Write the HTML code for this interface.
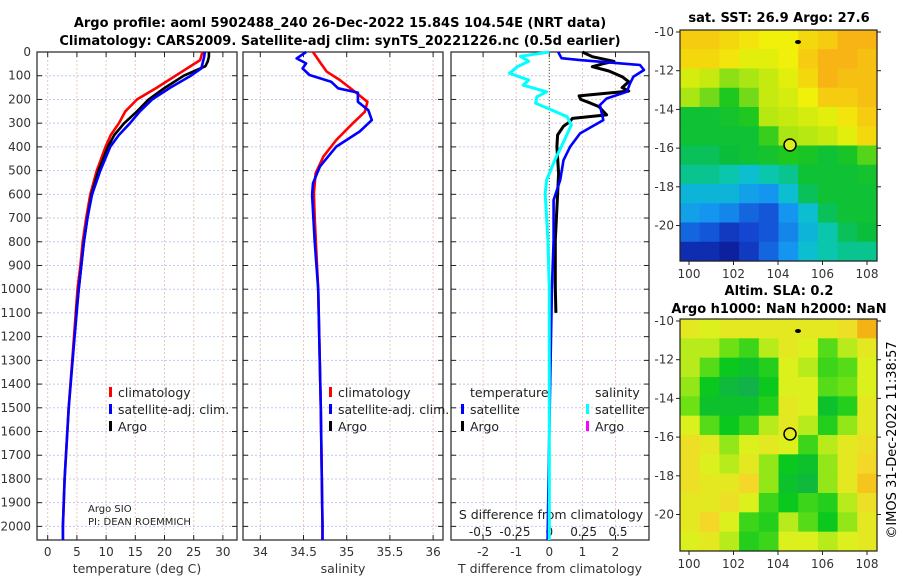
<!DOCTYPE html>
<html><head><meta charset="utf-8"><style>
html,body{margin:0;padding:0;background:#fff}
svg{display:block;font-family:"DejaVu Sans","Liberation Sans",sans-serif}
</style></head><body>
<svg id="chart" width="900" height="580" viewBox="0 0 900 580" xmlns="http://www.w3.org/2000/svg">
<text x="340" y="27" text-anchor="middle" font-size="13" font-weight="bold">Argo profile: aoml 5902488_240 26-Dec-2022 15.84S 104.54E (NRT data)</text>
<text x="340" y="45" text-anchor="middle" font-size="13" font-weight="bold">Climatology: CARS2009. Satellite-adj clim: synTS_20221226.nc (0.5d earlier)</text>
<text x="779" y="22" text-anchor="middle" font-size="13" font-weight="bold">sat. SST: 26.9 Argo: 27.6</text>
<text x="779" y="295" text-anchor="middle" font-size="13" font-weight="bold">Altim. SLA: 0.2</text>
<text x="779" y="313" text-anchor="middle" font-size="13" font-weight="bold">Argo h1000: NaN h2000: NaN</text>
<text transform="translate(896,440) rotate(-90)" text-anchor="middle" font-size="13">©IMOS 31-Dec-2022 11:38:57</text>
<g id="plots"></g>
</svg>
<script>
// ---- data ----
const depthTicks=[0,100,200,300,400,500,600,700,800,900,1000,1100,1200,1300,1400,1500,1600,1700,1800,1900,2000];
const tempTicks=[0,5,10,15,20,25,30];
const salTicks=[34,34.5,35,35.5,36];
const salTickLabels=["34","34.5","35","35.5","36"];
const tdiffTicks=[-2,-1,0,1,2];
const sdiffTicks=[-0.5,-0.25,0,0.25,0.5];
const sdiffTickLabels=["-0.5","-0.25","0","0.25","0.5"];

const climTDepth=[0,34,100,150,200,250,300,350,400,500,600,700,800,900,1000,1200,1500,1800,2000,2060];
const climT=[26.5,26.1,21.9,18.7,15.3,13.3,12.2,10.8,9.9,8.4,7.3,6.6,6.0,5.6,5.1,4.5,3.6,2.9,2.6,2.6];
const satTDepth=[0,20,69,100,150,200,250,300,350,400,500,600,700,800,1000,1200,1500,1800,2000,2060];
const satT=[26.9,26.8,26.3,24.5,21.0,17.9,15.8,14.1,12.2,10.7,9.0,7.6,6.8,6.2,5.3,4.6,3.6,2.9,2.6,2.6];
const argoTDepth=[0,20,40,60,100,150,200,250,300,350,400,500,600,700,800,1000,1100];
const argoT=[27.6,27.6,27.4,27.0,23.3,20.1,17.3,15.3,13.1,11.4,10.3,8.7,7.5,6.8,6.2,5.3,4.9];

const climSDepth=[0,48,83,118,160,210,252,301,371,441,512,596,700,1000,1500,2000,2060];
const climS=[34.61,34.70,34.77,34.92,35.07,35.24,35.21,35.07,34.88,34.73,34.64,34.62,34.63,34.67,34.70,34.72,34.72];
const satSDepth=[0,27,48,69,97,125,153,171,210,245,287,335,399,483,553,602,800,1000,1500,2000,2060];
const satS=[34.53,34.42,34.53,34.49,34.57,34.82,34.90,35.13,35.13,35.25,35.29,35.15,34.88,34.69,34.61,34.60,34.63,34.67,34.70,34.72,34.72];

const satTdDepth=[0,26,34,55,76,104,132,168,196,224,287,343,399,456,540,624,793,1000,1300,1600,2060];
const satTd=[0.27,0.37,0.93,2.74,2.86,2.54,2.44,2.34,1.73,1.53,1.63,0.93,0.63,0.43,0.33,0.13,0.13,0.08,0.04,0.0,-0.05];
const argoTdDepth=[0,20,39,50,62,80,104,125,150,165,185,200,216,230,265,280,296,313,350,399,512,600,793,990,1100];
const argoTd=[1.0,1.3,1.95,1.6,1.3,1.8,2.2,2.4,2.2,2.4,0.9,0.95,1.25,1.5,1.73,0.7,0.6,0.43,0.25,0.23,0.28,0.25,0.18,0.18,0.2];
const satSdDepth=[0,18,39,61,90,118,140,168,189,216,245,273,308,371,456,540,596,793,1000,2060];
const satSd=[0,-0.21,-0.15,-0.23,-0.29,-0.15,-0.19,-0.02,-0.09,-0.10,0.02,0.13,0.16,0.11,0.04,-0.02,-0.03,-0.01,0,0];

const lonTicks=[100,102,104,106,108];
const latTicks=[-10,-12,-14,-16,-18,-20];
const sstGrid=[
[27.6,27.6,27.5,27.4,27.3,27.3,27.5,27.6,27.8,27.8],
[27.5,27.5,27.4,27.2,27.2,27.3,27.6,27.8,27.8,27.7],
[27.1,27.0,26.7,26.8,27.0,27.2,27.5,27.8,27.7,27.7],
[26.8,26.6,26.3,26.6,27.0,27.1,27.3,27.6,27.6,27.7],
[26.0,26.0,26.1,26.3,26.9,27.0,27.1,27.2,27.4,27.6],
[26.0,26.0,26.0,26.0,26.4,26.8,26.9,27.0,27.2,27.5],
[25.8,25.8,25.9,26.0,26.1,26.3,26.2,26.0,26.2,26.5],
[25.6,25.6,25.5,25.3,25.5,25.6,26.0,26.0,26.0,26.1],
[25.2,25.2,25.2,25.0,24.9,25.3,25.8,26.0,26.0,26.0],
[25.0,24.9,24.8,24.6,24.5,24.9,25.3,25.8,26.0,26.0],
[24.6,24.5,24.3,24.4,24.5,24.8,25.2,25.5,25.8,25.9],
[24.2,24.2,24.1,24.3,24.6,24.9,25.3,25.5,25.6,25.6]];
const slaGrid=[
[.6,.55,.6,.6,.6,.6,.6,.6,.65,.8],
[.5,.5,.4,.3,.5,.6,.55,.35,.5,.6],
[.5,.35,.2,.15,.25,.55,.5,.3,.35,.55],
[.45,.2,.1,.05,.2,.55,.55,.35,.4,.55],
[.4,.15,.15,.15,.25,.6,.55,.15,.25,.6],
[.55,.35,.2,.3,.5,.6,.5,.25,.45,.6],
[.65,.6,.45,.55,.6,.55,.3,.5,.6,.65],
[.65,.55,.5,.6,.45,.2,.15,.45,.6,.7],
[.65,.6,.6,.7,.45,.15,.1,.45,.6,.75],
[.6,.6,.65,.55,.3,.2,.3,.25,.5,.65],
[.6,.7,.55,.3,.25,.5,.35,.2,.45,.6],
[.55,.6,.5,.25,.3,.55,.55,.5,.55,.6]];
const argoLon=104.54, argoLat=-15.84;

// ---- drawing ----
const NS="http://www.w3.org/2000/svg";
const root=document.getElementById('plots');
function mk(tag,attrs,parent){const e=document.createElementNS(NS,tag);for(const k in attrs)e.setAttribute(k,attrs[k]);(parent||root).appendChild(e);return e;}
const Y0=52, PXM=0.2372;
const yD=d=>Y0+d*PXM;
const panels=[
 {x0:37,x1:237,fx:v=>47.7+v*5.84},
 {x0:243,x1:443,fx:v=>260.3+(v-34)*86.4},
 {x0:451,x1:649,fx:v=>549.3+v*33.1}
];
const fS=v=>549.3+v*137.4;
const PB=540;
function gridAndFrame(p,xt,name){
  const g=mk('g',{});
  
  
  depthTicks.forEach(d=>{mk('line',{x1:p.x0,x2:p.x1,y1:yD(d),y2:yD(d),stroke:'#c4c8ee','stroke-dasharray':'2,2','stroke-width':1},g);
    mk('line',{x1:p.x0,x2:p.x0+5,y1:yD(d),y2:yD(d),stroke:'#222'},g);
    mk('line',{x1:p.x1-5,x2:p.x1,y1:yD(d),y2:yD(d),stroke:'#222'},g);});
  xt.forEach(v=>{const x=p.fx(v);mk('line',{x1:x,x2:x,y1:Y0,y2:PB,stroke:'#e8c8b8','stroke-dasharray':'2,2','stroke-width':1},g);
    mk('line',{x1:x,x2:x,y1:PB-5,y2:PB,stroke:'#222'},g);mk('line',{x1:x,x2:x,y1:Y0,y2:Y0+5,stroke:'#222'},g);});
  const f=mk('rect',{x:p.x0,y:Y0,width:p.x1-p.x0,height:PB-Y0,fill:'none',stroke:'#222','stroke-width':1.2});
  
  
}
function line(fx,ds,vs,color,name,w){
  const pts=ds.map((d,i)=>fx(vs[i]).toFixed(1)+','+Math.min(yD(d),PB).toFixed(1)).join(' ');
  const e=mk('polyline',{points:pts,fill:'none',stroke:color,'stroke-width':w||2.6,'stroke-linejoin':'round'});
  
  
}
function txt(x,y,s,attrs,name){const e=mk('text',Object.assign({x:x,y:y,'font-size':12.5},attrs||{}));e.textContent=s;
  
  return e;}

gridAndFrame(panels[0],tempTicks,'temperature-panel');
gridAndFrame(panels[1],salTicks,'salinity-panel');
gridAndFrame(panels[2],tdiffTicks,'difference-panel');
depthTicks.forEach(d=>txt(31,yD(d)+4,String(d),{'text-anchor':'end','font-size':12,fill:'#333'},'depth-tick-label'));
tempTicks.forEach(v=>txt(panels[0].fx(v),556,String(v),{'text-anchor':'middle','font-size':12,fill:'#333'},'temperature-tick-label'));
salTicks.forEach((v,i)=>txt(panels[1].fx(v),556,salTickLabels[i],{'text-anchor':'middle','font-size':12,fill:'#333'},'salinity-tick-label'));
tdiffTicks.forEach(v=>txt(panels[2].fx(v),556,String(v),{'text-anchor':'middle','font-size':12,fill:'#333'},'tdiff-tick-label'));
sdiffTicks.forEach((v,i)=>txt(fS(v),536,sdiffTickLabels[i],{'text-anchor':'middle','font-size':12,fill:'#222'},'sdiff-tick-label'));
txt(137,573,'temperature (deg C)',{'text-anchor':'middle',fill:'#333'},'temperature-axis-title');
txt(343,573,'salinity',{'text-anchor':'middle',fill:'#333'},'salinity-axis-title');
txt(550,573,'T difference from climatology',{'text-anchor':'middle',fill:'#333'},'tdiff-axis-title');
txt(551,519,'S difference from climatology',{'text-anchor':'middle',fill:'#222'},'sdiff-axis-title');
mk('line',{x1:549.3,x2:549.3,y1:Y0,y2:PB,stroke:'#555','stroke-dasharray':'1,2'});

line(panels[0].fx,climTDepth,climT,'#f00','temperature-climatology-line');
line(panels[0].fx,argoTDepth,argoT,'#000','temperature-argo-line');
line(panels[0].fx,satTDepth,satT,'#00f','temperature-satellite-line');
line(panels[1].fx,climSDepth,climS,'#f00','salinity-climatology-line');
line(panels[1].fx,satSDepth,satS,'#00f','salinity-satellite-line');
line(panels[2].fx,argoTdDepth,argoTd,'#000','tdiff-argo-line',3);
line(panels[2].fx,satTdDepth,satTd,'#00f','tdiff-satellite-line');
line(fS,satSdDepth,satSd,'#0ff','sdiff-satellite-line',3);

function leg(x,y,color,label,name){mk('rect',{x:x-9,y:y-10,width:3,height:10,fill:color});txt(x,y,label,{fill:'#222'},name);}
[[118,'#f00','climatology'],[118,'#00f','satellite-adj. clim.'],[118,'#000','Argo']].forEach((l,i)=>leg(l[0],397+i*17,l[1],l[2],'temperature-legend-entry'));
[[338,'#f00','climatology'],[338,'#00f','satellite-adj. clim.'],[338,'#000','Argo']].forEach((l,i)=>leg(l[0],397+i*17,l[1],l[2],'salinity-legend-entry'));
txt(470,397,'temperature',{fill:'#222'},'legend-temperature-heading');
txt(595,397,'salinity',{fill:'#222'},'legend-salinity-heading');
leg(470,414,'#00f','satellite','legend-t-satellite');
leg(470,431,'#000','Argo','legend-t-argo');
leg(595,414,'#0ff','satellite','legend-s-satellite');
leg(595,431,'#f0f','Argo','legend-s-argo');
txt(88,512,'Argo SIO',{'font-size':10,fill:'#222'},'argo-sio-label');
txt(88,525,'PI: DEAN ROEMMICH',{'font-size':10,fill:'#222'},'pi-label');

function lerpCol(stops,v){
  if(v<=stops[0][0])return 'rgb('+stops[0][1].join(',')+')';
  for(let i=1;i<stops.length;i++){if(v<=stops[i][0]){const a=stops[i-1],b=stops[i],t=(v-a[0])/(b[0]-a[0]);
    return 'rgb('+[0,1,2].map(k=>Math.round(a[1][k]+(b[1][k]-a[1][k])*t)).join(',')+')';}}
  const l=stops[stops.length-1][1];return 'rgb('+l.join(',')+')';
}
const sstStops=[[24.0,[10,20,140]],[24.4,[20,70,210]],[24.9,[20,150,240]],[25.4,[10,200,200]],[25.9,[10,190,60]],[26.3,[30,200,30]],[26.8,[170,230,20]],[27.3,[240,240,10]],[27.8,[248,180,20]]];
const slaStops=[[0,[20,170,90]],[0.2,[10,200,30]],[0.4,[110,225,20]],[0.55,[220,240,30]],[0.7,[245,215,40]],[0.85,[245,160,10]]];
function drawMap(gx0,gx1,gy0,gy1,grid,stops,name,filled){
  const g=mk('g',{});
  
  
  const rows=grid.length,cols=grid[0].length,cw=(gx1-gx0)/cols,ch=(gy1-gy0)/rows;
  const fx=lon=>689+(lon-100)*22.25, fy=lat=>gy0+2+(-10-lat)*19.35;
  grid.forEach((r,i)=>r.forEach((v,j)=>{mk('rect',{x:gx0+j*cw,y:gy0+i*ch,width:cw+0.6,height:ch+0.6,fill:lerpCol(stops,v)},g);}));
  mk('rect',{x:gx0,y:gy0,width:gx1-gx0,height:gy1-gy0,fill:'none',stroke:'#222','stroke-width':1.2},g);
  lonTicks.forEach(l=>{const x=fx(l);mk('line',{x1:x,x2:x,y1:gy1,y2:gy1+4,stroke:'#222'},g);
    txt(x,gy1+17,String(l),{'text-anchor':'middle','font-size':12,fill:'#333'},'longitude-tick-label');});
  latTicks.forEach(l=>{const y=fy(l);mk('line',{x1:gx0-4,x2:gx0,y1:y,y2:y,stroke:'#222'},g);mk('line',{x1:gx1,x2:gx1+4,y1:y,y2:y,stroke:'#222'},g);
    txt(gx0-6,y+4,String(l),{'text-anchor':'end','font-size':12,fill:'#333'},'latitude-tick-label');});
  mk('ellipse',{cx:798,cy:gy0+12,rx:3,ry:2,fill:'#000'},g);
  const c=mk('circle',{cx:fx(argoLon),cy:fy(argoLat),r:6,fill:filled?'#d8ec20':'none',stroke:'#000','stroke-width':1.5},g);
  
  
}
drawMap(680,877,30,261,sstGrid,sstStops,'sst-map',true);
drawMap(680,877,319,551,slaGrid,slaStops,'sla-map',false);
</script>
</body></html>
